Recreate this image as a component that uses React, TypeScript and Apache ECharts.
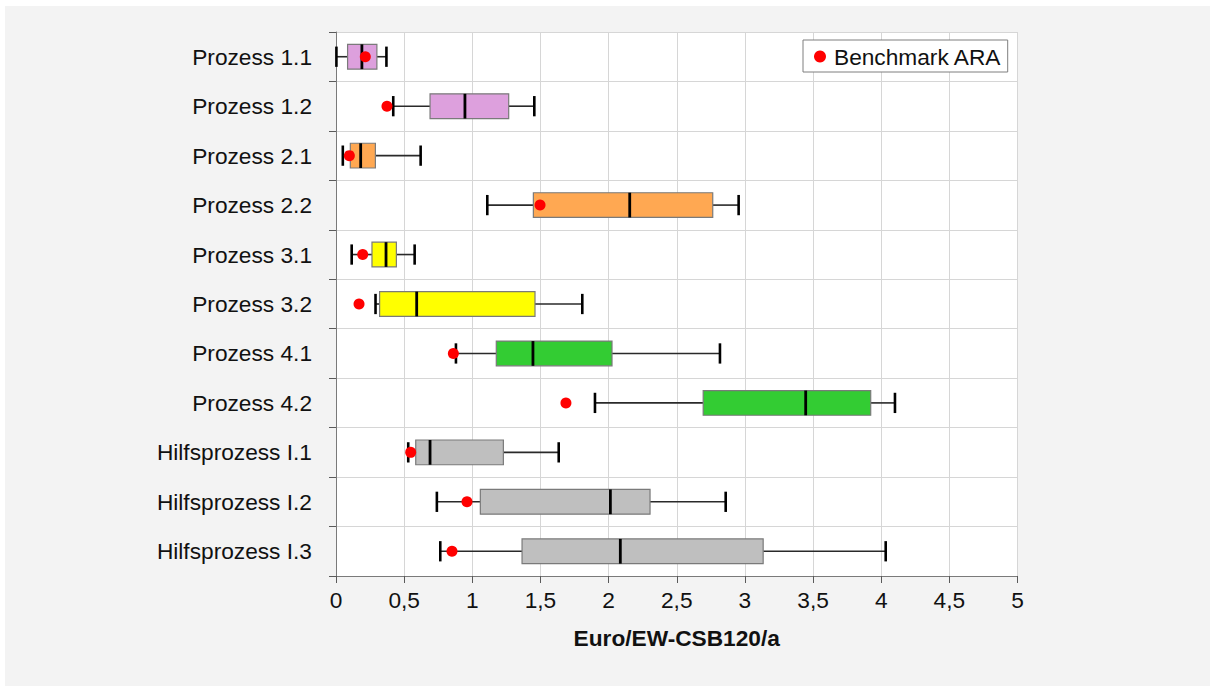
import React, { useEffect, useRef } from "react";
import * as echarts from "echarts";

const categories = [
  "Prozess 1.1",
  "Prozess 1.2",
  "Prozess 2.1",
  "Prozess 2.2",
  "Prozess 3.1",
  "Prozess 3.2",
  "Prozess 4.1",
  "Prozess 4.2",
  "Hilfsprozess I.1",
  "Hilfsprozess I.2",
  "Hilfsprozess I.3",
];
const whiskerLow = [0.003, 0.42, 0.05, 1.11, 0.115, 0.29, 0.88, 1.9, 0.53, 0.74, 0.765];
const q1 = [0.085, 0.69, 0.105, 1.448, 0.264, 0.32, 1.176, 2.694, 0.585, 1.059, 1.365];
const median = [0.19, 0.946, 0.181, 2.155, 0.367, 0.592, 1.445, 3.446, 0.69, 2.013, 2.086];
const q3 = [0.3, 1.267, 0.289, 2.764, 0.443, 1.46, 2.025, 3.923, 1.228, 2.304, 3.134];
const whiskerHigh = [0.37, 1.455, 0.621, 2.954, 0.577, 1.807, 2.817, 4.101, 1.634, 2.859, 4.033];
const benchmark = [0.215, 0.374, 0.098, 1.497, 0.196, 0.169, 0.861, 1.687, 0.548, 0.961, 0.851];
const boxColors = [
  "#DDA0DD",
  "#DDA0DD",
  "#FFA852",
  "#FFA852",
  "#FFFF00",
  "#FFFF00",
  "#33CC33",
  "#33CC33",
  "#BFBFBF",
  "#BFBFBF",
  "#BFBFBF",
];
const xTicks = { min: 0, max: 5, interval: 0.5 };
const benchmarkName = "Benchmark ARA";
const xAxisName = "Euro/EW-CSB120/a";

const FONT = "'Liberation Sans', Arial, sans-serif";

export default function App() {
  const ref = useRef<HTMLDivElement>(null);

  useEffect(() => {
    if (!ref.current) return;
    const chart = echarts.init(ref.current, undefined, { renderer: "svg" });

    const boxData = categories.map((_, i) => [
      i,
      whiskerLow[i],
      q1[i],
      median[i],
      q3[i],
      whiskerHigh[i],
    ]);

    const option: any = {
      animation: false,
      backgroundColor: "transparent",
      textStyle: { fontFamily: FONT },
      grid: {
        left: 336,
        top: 32,
        width: 681.5,
        height: 544,
        show: true,
        backgroundColor: "#ffffff",
        borderWidth: 0,
      },
      legend: {
        data: [benchmarkName],
        left: 803,
        top: 40,
        icon: "circle",
        itemWidth: 18,
        itemHeight: 12,
        itemGap: 0,
        padding: [5, 6, 4, 11],
        backgroundColor: "#ffffff",
        borderColor: "#7f7f7f",
        borderWidth: 1,
        borderRadius: 0,
        textStyle: { fontFamily: FONT, fontSize: 22.7, color: "#111" },
      },
      xAxis: {
        type: "value",
        min: xTicks.min,
        max: xTicks.max,
        interval: xTicks.interval,
        name: xAxisName,
        nameLocation: "middle",
        nameGap: 50,
        nameTextStyle: {
          fontFamily: FONT,
          fontSize: 22.7,
          fontWeight: "bold",
          color: "#111",
        },
        axisLine: { show: true, lineStyle: { color: "#7a7a7a", width: 1 } },
        axisTick: { show: true, length: 7, lineStyle: { color: "#5a5a5a" } },
        axisLabel: {
          fontFamily: FONT,
          fontSize: 22.7,
          color: "#111",
          margin: 12,
          formatter: (v: number) => String(v).replace(".", ","),
        },
        splitLine: { show: true, lineStyle: { color: "#d6d6d6", width: 1 } },
      },
      yAxis: {
        type: "category",
        data: categories,
        inverse: true,
        axisLine: { show: true, lineStyle: { color: "#7a7a7a", width: 1 } },
        axisTick: { show: true, length: 7, lineStyle: { color: "#5a5a5a" } },
        axisLabel: {
          fontFamily: FONT,
          fontSize: 22.7,
          color: "#111",
          margin: 24,
        },
        splitLine: { show: true, lineStyle: { color: "#d6d6d6", width: 1 } },
      },
      series: [
        {
          type: "custom",
          name: "box",
          clip: false,
          encode: { x: [1, 2, 3, 4, 5], y: 0 },
          data: boxData,
          renderItem: (params: any, api: any) => {
            const cat = api.value(0);
            const xs = [1, 2, 3, 4, 5].map(
              (k) => api.coord([api.value(k), cat])[0]
            );
            const y = api.coord([0, cat])[1];
            const band = api.size([0, 1])[1];
            const boxH = band * 0.5;
            const capH = band * 0.41;
            const color = boxColors[params.dataIndex];
            const whiskerStyle = { stroke: "#2a2a2a", lineWidth: 1.6 };
            const capStyle = { stroke: "#000", lineWidth: 2.6 };
            return {
              type: "group",
              children: [
                {
                  type: "line",
                  shape: { x1: xs[0], y1: y, x2: xs[1], y2: y },
                  style: whiskerStyle,
                },
                {
                  type: "line",
                  shape: { x1: xs[3], y1: y, x2: xs[4], y2: y },
                  style: whiskerStyle,
                },
                {
                  type: "line",
                  shape: { x1: xs[0], y1: y - capH / 2, x2: xs[0], y2: y + capH / 2 },
                  style: capStyle,
                },
                {
                  type: "line",
                  shape: { x1: xs[4], y1: y - capH / 2, x2: xs[4], y2: y + capH / 2 },
                  style: capStyle,
                },
                {
                  type: "rect",
                  shape: { x: xs[1], y: y - boxH / 2, width: xs[3] - xs[1], height: boxH },
                  style: { fill: color, stroke: "#7a7a7a", lineWidth: 1.2 },
                },
                {
                  type: "line",
                  shape: { x1: xs[2], y1: y - boxH / 2, x2: xs[2], y2: y + boxH / 2 },
                  style: { stroke: "#000", lineWidth: 2.8 },
                },
              ],
            };
          },
          z: 3,
        },
        {
          type: "scatter",
          name: benchmarkName,
          symbol: "circle",
          symbolSize: 11,
          itemStyle: { color: "#FF0000", opacity: 1 },
          data: categories.map((c, i) => [benchmark[i], c]),
          z: 5,
        },
      ],
    };

    chart.setOption(option);
    return () => {
      chart.dispose();
    };
  }, []);

  return (
    <div
      style={{
        position: "fixed",
        left: 0,
        top: 0,
        width: 1211,
        height: 686,
        background: "#ffffff",
        overflow: "hidden",
      }}
    >
      <div
        style={{
          position: "absolute",
          left: 5,
          top: 6,
          width: 1205,
          height: 680,
          background: "#f3f3f3",
        }}
      />
      <div
        ref={ref}
        style={{ position: "absolute", left: 0, top: 0, width: 1211, height: 686 }}
      />
    </div>
  );
}
